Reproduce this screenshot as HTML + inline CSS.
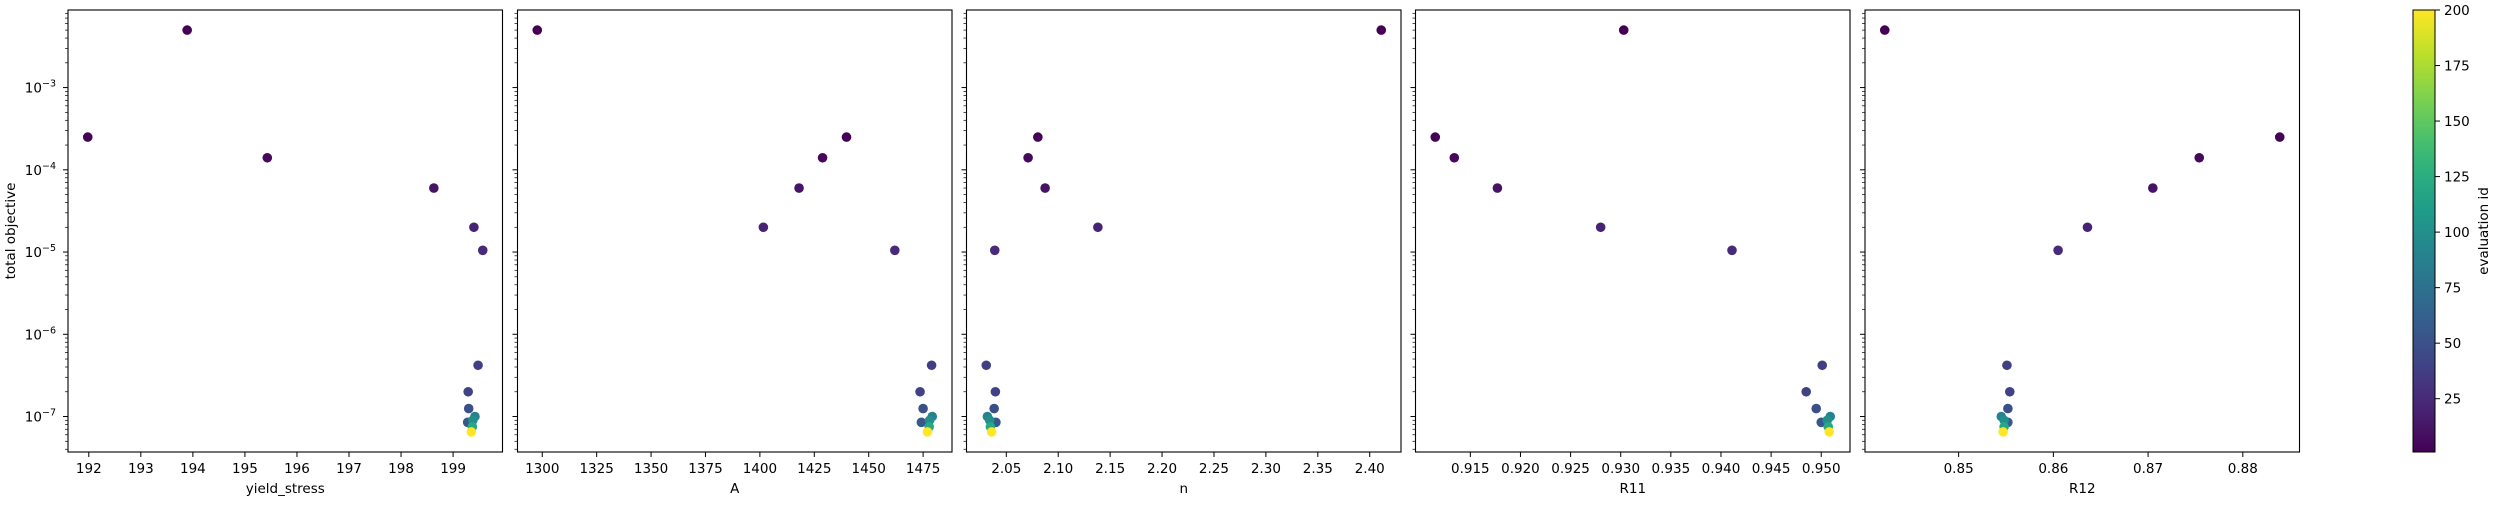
<!DOCTYPE html>
<html><head><meta charset="utf-8"><style>
html,body{margin:0;padding:0;background:#fff;}
svg text{font-family:"DejaVu Sans","Liberation Sans",sans-serif;fill:#000;}
</style></head><body>
<svg id="chart" width="2500" height="500" viewBox="0 0 2500 500" xmlns="http://www.w3.org/2000/svg"></svg>
<script>
// ---- data ----
const objective = [5e-3, 2.5e-4, 1.4e-4, 6e-5, 2e-5, 1.05e-5, 4.2e-7, 2e-7, 1.25e-7, 8.5e-8, 1e-7, 9e-8, 7.5e-8, 6.5e-8];
const evalIds   = [1, 2, 5, 12, 20, 25, 38, 40, 50, 55, 90, 100, 120, 200];
const yieldStress = [193.89, 191.98, 195.43, 198.63, 199.40, 199.57, 199.48, 199.29, 199.30, 199.28, 199.42, 199.38, 199.37, 199.35];
const paramA      = [1297.7, 1439.8, 1428.8, 1418.0, 1401.6, 1462.0, 1478.9, 1473.6, 1475.0, 1474.2, 1479.2, 1478.0, 1477.8, 1477.0];
const paramN      = [2.4111, 2.0804, 2.0710, 2.0874, 2.1382, 2.0389, 2.0307, 2.0395, 2.0383, 2.0400, 2.0318, 2.0340, 2.0347, 2.0359];
const paramR11    = [0.9303, 0.9115, 0.9134, 0.9177, 0.9280, 0.9411, 0.9501, 0.9485, 0.9495, 0.9500, 0.9509, 0.9506, 0.9507, 0.9508];
const paramR12    = [0.8422, 0.8839, 0.8754, 0.8705, 0.8636, 0.8605, 0.8551, 0.8554, 0.8552, 0.8552, 0.8545, 0.8548, 0.8548, 0.8547];
const ticksYS  = [192,193,194,195,196,197,198,199];
const ticksA   = [1300,1325,1350,1375,1400,1425,1450,1475];
const ticksN   = [2.05,2.10,2.15,2.20,2.25,2.30,2.35,2.40];
const ticksR11 = [0.915,0.920,0.925,0.930,0.935,0.940,0.945,0.950];
const ticksR12 = [0.85,0.86,0.87,0.88];
const yDecades = [-7,-6,-5,-4,-3];
const cbTicks  = [25,50,75,100,125,150,175,200];
const cbMin = 1, cbMax = 200;

const NS = "http://www.w3.org/2000/svg";
const svg = document.getElementById('chart');
function mk(tag, attrs, parent){ const e=document.createElementNS(NS,tag); for(const k in attrs) e.setAttribute(k,attrs[k]); (parent||svg).appendChild(e); return e; }

const viridisStops = [[68,1,84],[72,40,120],[62,74,137],[49,104,142],[38,130,142],[31,158,137],[53,183,121],[110,206,88],[181,222,43],[253,231,37]];
function viridis(t){ t=Math.max(0,Math.min(1,t)); const s=t*(viridisStops.length-1); const i=Math.min(Math.floor(s),viridisStops.length-2); const f=s-i; const a=viridisStops[i],b=viridisStops[i+1]; return `rgb(${Math.round(a[0]+(b[0]-a[0])*f)},${Math.round(a[1]+(b[1]-a[1])*f)},${Math.round(a[2]+(b[2]-a[2])*f)})`; }

const TOP=10, BOT=452;
const logs = objective.map(v=>Math.log10(v));
const lmin=Math.min(...logs), lmax=Math.max(...logs), lr=lmax-lmin;
const yLo=lmin-0.05*lr, yHi=lmax+0.05*lr;
function yScale(v){ return BOT-(Math.log10(v)-yLo)/(yHi-yLo)*(BOT-TOP); }

const panels = [
  {name:'yield_stress', xs:yieldStress, ticks:ticksYS, fmt:v=>v.toFixed(0), left:68},
  {name:'A', xs:paramA, ticks:ticksA, fmt:v=>v.toFixed(0), left:517.5},
  {name:'n', xs:paramN, ticks:ticksN, fmt:v=>v.toFixed(2), left:966.5},
  {name:'R11', xs:paramR11, ticks:ticksR11, fmt:v=>v.toFixed(3), left:1415.5},
  {name:'R12', xs:paramR12, ticks:ticksR12, fmt:v=>v.toFixed(2), left:1865}
];
const PW=434.5;

panels.forEach((p,pi)=>{
  const g=mk('g',{});
  
  
  const mn=Math.min(...p.xs), mx=Math.max(...p.xs), r=mx-mn;
  const x0=mn-0.05*r, x1=mx+0.05*r;
  const xs=v=>p.left+(v-x0)/(x1-x0)*PW;
  const order = evalIds.map((d,i)=>i).sort((a,b)=>evalIds[a]-evalIds[b]);
  order.forEach(i=>{
    const c=mk('circle',{cx:xs(p.xs[i]),cy:yScale(objective[i]),r:4.8,fill:viridis((evalIds[i]-cbMin)/(cbMax-cbMin))},g);
    
    
  });
  const fr=mk('rect',{x:p.left,y:TOP,width:PW,height:BOT-TOP,fill:'none',stroke:'#000','stroke-width':1.1},g);
  
  
  p.ticks.forEach(t=>{
    const x=xs(t);
    mk('line',{x1:x,x2:x,y1:BOT,y2:BOT+5,stroke:'#000','stroke-width':1},g);
    const tx=mk('text',{x:x,y:473,'font-size':13.5,'text-anchor':'middle'},g);
    tx.textContent=p.fmt(t);
    
    
  });
  const xl=mk('text',{x:p.left+PW/2,y:493,'font-size':13.5,'text-anchor':'middle'},g);
  xl.textContent=p.name;
  
  
  for(let d=-8; d<=-2; d++){
    for(let m=1;m<=9;m++){
      const v=m*Math.pow(10,d); const lv=Math.log10(v);
      if(lv<yLo||lv>yHi) continue;
      const y=yScale(v);
      mk('line',{x1:p.left-(m===1?5:3),x2:p.left,y1:y,y2:y,stroke:'#000','stroke-width':m===1?1:0.7},g);
    }
  }
  if(pi===0){
    yDecades.forEach(d=>{
      const y=yScale(Math.pow(10,d));
      const t=mk('text',{x:56,y:y+5,'font-size':13.5,'text-anchor':'end'},g);
      
      
      const a=mk('tspan',{},t); a.textContent='10';
      const b=mk('tspan',{dy:-6,'font-size':9.5},t); b.textContent='\u2212'+Math.abs(d);
    });
    const yl=mk('text',{x:0,y:0,'font-size':13.5,'text-anchor':'middle',transform:'translate(15,231) rotate(-90)'},g);
    yl.textContent='total objective';
    
    
  }
});

const cb=mk('g',{});


const defs=mk('defs',{});
const lg=mk('linearGradient',{id:'vg',x1:0,y1:1,x2:0,y2:0},defs);
for(let i=0;i<=20;i++){ mk('stop',{offset:(i/20),'stop-color':viridis(i/20)},lg); }
const CBX=2413, CBW=22;
mk('rect',{x:CBX,y:TOP,width:CBW,height:BOT-TOP,fill:'url(#vg)',stroke:'#000','stroke-width':1},cb);
const cbY=v=>BOT-(v-cbMin)/(cbMax-cbMin)*(BOT-TOP);
cbTicks.forEach(t=>{
  const y=cbY(t);
  mk('line',{x1:CBX+CBW,x2:CBX+CBW+5,y1:y,y2:y,stroke:'#000','stroke-width':1},cb);
  const tx=mk('text',{x:CBX+CBW+9,y:y+5,'font-size':13.5},cb);
  tx.textContent=String(t);
  
  
});
const cl=mk('text',{x:0,y:0,'font-size':13.5,'text-anchor':'middle',transform:'translate(2488,231) rotate(-90)'},cb);
cl.textContent='evaluation id';


</script>
</body></html>
